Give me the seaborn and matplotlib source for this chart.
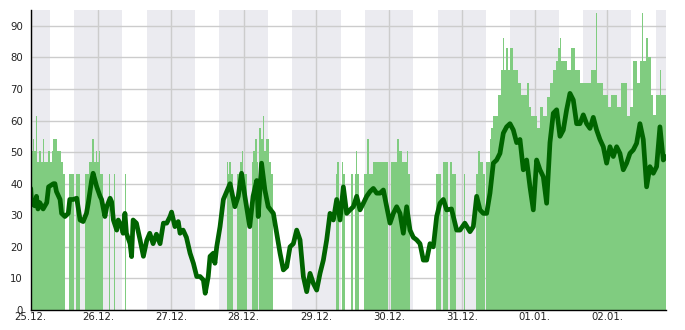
import matplotlib
matplotlib.use("Agg")
import matplotlib.pyplot as plt
from matplotlib.ticker import MultipleLocator
import seaborn as sns
import numpy as np

# ---------------- data (hours since 25.12. 00:00) ----------------
day_labels = ["25.12.", "26.12.", "27.12.", "28.12.", "29.12.", "30.12.",
              "31.12.", "01.01.", "02.01."]

line_hours = [1.7, 2.0, 3.0, 3.6, 4.1, 4.7, 5.8, 7.0, 7.6, 9.2, 9.7, 10.2, 11.4, 11.9,
              13.0, 14.1, 14.6, 15.7, 16.9, 18.0, 19.0, 20.1, 20.7, 21.8, 22.3, 23.5,
              24.6, 25.1, 26.2, 26.8, 27.9, 28.4, 29.0, 30.1, 30.6, 31.7, 32.2, 32.8,
              33.3, 34.5, 35.0, 35.5, 36.6, 37.8, 38.9, 40.0, 41.0, 42.1, 43.2, 44.4,
              45.5, 46.6, 47.7, 48.2, 49.3, 50.4, 51.0, 52.0, 53.1, 54.3, 55.4, 56.5,
              57.6, 58.7, 59.3, 60.3, 60.9, 62.0, 62.5, 63.1, 64.2,
              65.3, 67.5, 69.1, 70.2, 71.3, 72.4, 74.0, 75.1, 76.3, 76.8, 77.9, 79.0,
              80.1, 81.8, 82.9, 84.0, 85.1, 86.2, 87.3, 88.4, 89.5, 90.6, 91.7, 92.8,
              93.9, 95.0, 96.1, 97.2, 98.3, 99.4, 100.5, 101.6, 102.7, 103.8, 104.9,
              106.0, 107.1, 108.2, 109.3, 110.4, 111.5, 112.6, 113.7, 114.8, 115.9,
              117.0, 118.1, 119.2, 120.3, 121.4, 122.5, 123.6, 124.7, 125.8, 126.9,
              128.0, 129.1, 130.2, 131.3, 132.4, 133.5, 134.6, 135.7,
              136.8, 137.9, 139.0, 140.6, 142.3, 143.4, 145.0, 146.7, 147.8, 148.9,
              150.0, 151.1, 152.2, 153.3, 154.4, 155.5, 156.6, 157.7, 158.8, 159.9,
              161.0, 162.1, 163.2, 164.3, 165.4, 166.5, 167.6, 168.7, 169.8, 170.9,
              172.0, 173.1, 174.2, 175.3, 176.4, 177.5, 178.6, 179.7, 180.8, 181.9,
              183.0, 184.1, 185.2, 186.3, 187.4, 188.5, 189.6, 190.7, 191.8, 192.9,
              194.0, 195.1, 196.2, 197.3, 198.4, 199.5, 200.6, 201.7, 202.8, 203.9,
              205.0, 206.1, 207.2, 208.3, 209.4, 210.5, 211.4]
line_vals = [38.5, 33.8, 33, 36, 32, 34, 32, 34, 39, 40, 40, 37.5, 35, 30.6,
             29.6, 30.6, 35, 35, 35.4, 28.5, 28, 30.6, 33.8, 41, 43.3, 39,
             36, 35, 29.6, 32.7, 35.4, 34.3, 28.5, 25.3, 28.5, 26.4, 24.3, 30.6,
             24.3, 21, 16.9, 28.5, 27.5, 22.2, 17, 22, 24.3, 21, 24, 21,
             27.5, 27.5, 29.6, 31, 26.4, 28, 24.3, 25.3, 23, 18, 14.8, 10.6,
             10.6, 9.5, 5.3, 10.6, 17, 18, 14.8, 20, 26.4,
             35, 40, 32.7, 36, 43.3, 36, 26.4, 36, 41, 29.6, 46.5, 38,
             32.7, 30.6, 24.3, 18, 12.7, 13.7, 20, 21, 25.3, 22.2, 10.6, 5.8,
             11.6, 8.4, 6.3, 11.6, 15.8, 22.2, 30.6, 28.5, 35, 28.5, 39,
             30.6, 31.7, 32.7, 36, 31.7, 33.8, 36, 37.5, 38.5, 37,
             37, 38, 32.7, 27.5, 30.6, 32.7, 30.6, 24.3, 32.7, 25.3,
             23, 22.2, 21, 15.8, 15.8, 21, 20, 29.6,
             33.8, 35, 31.7, 32, 25.3, 25.3, 27.5, 24.8, 26.4, 36,
             31.7, 30.6, 30.6, 37, 46.5, 47.5, 49.6, 56, 58, 59,
             57, 53, 54, 44.4, 47.5, 39, 31.7, 47.5, 44.4, 42.2,
             33.8, 53, 62.3, 63.4, 55, 57, 63.4, 68.6, 66.5, 59,
             59, 61.8, 59, 57.5, 61, 57, 54, 51.7, 46.5, 51.7,
             48.6, 51.7, 49.6, 44.4, 46.5, 49.6, 50.7, 52.8, 59, 54,
             39, 45.4, 43.3, 45.4, 58, 47.5, 48.6]

bar_hours = [1.7, 2.12, 2.56, 2.89, 3.33, 3.88, 4.54, 5.09, 5.64, 6.08, 7.29, 8.06,
             8.61, 9.16, 10.26, 11.69, 12.24, 13.01, 14.33, 15.98, 16.64, 17.96,
             19.61, 21.04, 21.81, 22.58, 23.24, 23.68, 24.12, 24.56, 25.44, 27.53,
             27.86, 29.18, 29.51, 32.81, 33.14,
             66.37, 66.81, 67.25, 67.69, 68.57, 69.89, 70.77, 71.43, 71.87, 72.97,
             74.62, 75.17, 75.61, 76.27, 76.82, 77.04, 77.59, 78.25, 78.69, 79.35,
             80.23, 80.45, 80.89, 81.55,
             102.45, 102.89, 103.33, 104.32, 104.87, 105.42, 107.4, 108.17, 108.6,
             108.94, 109.27, 110.0, 111.69, 112.57, 113.34, 114.78, 119.5, 120.5,
             122.48, 123.25, 124.13, 125.78, 126.33, 126.88,
             135.4, 137.2, 137.7, 139.6, 140.0, 140.7, 142.0, 144.7, 145.2, 148.7,
             149.3, 150.0, 151.0, 151.7, 152.0, 153.3, 153.8, 154.4, 156.0, 157.1,
             157.7, 158.0, 158.6, 159.3, 159.9, 161.0, 162.6, 163.7, 165.4, 166.3,
             167.0, 168.7, 169.8, 170.9, 172.0, 173.1, 174.2, 175.1, 175.8, 176.4,
             176.7, 178.6, 180.2, 181.3, 183.0, 186.8, 188.3, 188.6, 190.7, 192.3,
             193.4, 195.1, 196.7, 198.4, 199.5, 200.6, 201.7, 202.8, 203.6, 203.9,
             204.8, 205.3, 205.6, 206.6, 207.0, 208.2, 209.3, 209.7]
bar_vals = [57.7, 50.5, 54.1, 50.5, 61.3, 46.9, 50.5, 46.9, 54.1, 46.9, 50.5, 46.9,
            50.5, 54.1, 50.5, 46.9, 43.2, 0, 43.2, 0, 43.2, 0,
            43.2, 46.9, 54.1, 46.9, 50.5, 46.9, 50.5, 43.2, 0, 43.2,
            0, 43.2, 0, 43.2, 0,
            46.9, 43.2, 46.9, 43.2, 0, 43.2, 46.9, 50.5, 43.2, 0,
            46.9, 50.5, 54.1, 46.9, 0, 57.7, 54.1, 61.3, 50.5, 54.1,
            0, 46.9, 43.2, 0,
            43.2, 46.9, 0, 46.9, 43.2, 0, 43.2, 0, 43.2,
            50.5, 43.2, 0, 43.2, 54.1, 43.2, 46.9, 0, 46.9,
            54.1, 50.5, 46.9, 50.5, 43.2, 0,
            43.2, 0, 46.9, 0, 46.9, 43.2, 0, 43.2, 0, 43.2,
            50.5, 46.9, 43.2, 0, 46.9, 54.1, 57.7, 61.3, 68.1, 76,
            86, 76, 83, 76, 83, 76, 72, 68.1, 72, 64.4,
            61.3, 57.7, 64.4, 61.3, 67.6, 72, 76, 78.7, 83, 86,
            78.7, 76, 83, 76, 72, 76, 94, 72, 68.1, 64.4,
            68.1, 64.4, 72, 61.3, 64.4, 78.7, 72, 79, 94, 79,
            86, 90, 80, 68.1, 61.8, 68.1, 76, 68.1]

# ---------------- figure ----------------
sns.set_style("white")
plt.rcParams["font.family"] = ["DejaVu Sans"]

W, H = 685, 330
fig = plt.figure(figsize=(W / 100, H / 100), dpi=100)
ax = fig.add_axes([30.7 / W, 20 / H, (666 - 30.7) / W, 300 / H])

x0, x1 = 1.7, 211.4
ax.set_xlim(x0, x1)
ax.set_ylim(0, 95)

# night bands 16:00 - 08:00
for k in range(-1, 9):
    s, e = 16 + 24 * k, 32 + 24 * k
    s, e = max(s, x0), min(e, x1)
    if e > s:
        ax.axvspan(s, e, color="#EBEBF0", lw=0, zorder=0)

ax.set_axisbelow(True)
ax.grid(True, which="major", color="#CCCCCC", lw=1)

ax.fill_between(bar_hours + [x1], bar_vals + [bar_vals[-1]], step="post",
                color="#80CC80", lw=0, zorder=1)
sns.lineplot(x=line_hours, y=line_vals, ax=ax, color="#006400", lw=3.4,
             sort=False, zorder=2)

ax.set_xticks([x0] + [24 * k for k in range(1, 9)])
ax.set_xticklabels(day_labels)
ax.set_yticks(range(0, 100, 10))
ax.yaxis.set_minor_locator(MultipleLocator(5))
ax.tick_params(axis="both", which="major", direction="in", length=4, width=1,
               labelsize=7.3, colors="black", labelcolor="#222222")
ax.tick_params(axis="both", which="minor", direction="in", length=3, width=1)
ax.tick_params(axis="y", pad=5.5)
ax.tick_params(axis="x", pad=1.5)
ax.tick_params(axis="x", which="minor", bottom=False)

for side in ("top", "right"):
    ax.spines[side].set_visible(False)
for side in ("left", "bottom"):
    ax.spines[side].set_color("black")
    ax.spines[side].set_linewidth(1)

ax.set_xlabel("")
ax.set_ylabel("")

fig.savefig("out.png", dpi=100)
